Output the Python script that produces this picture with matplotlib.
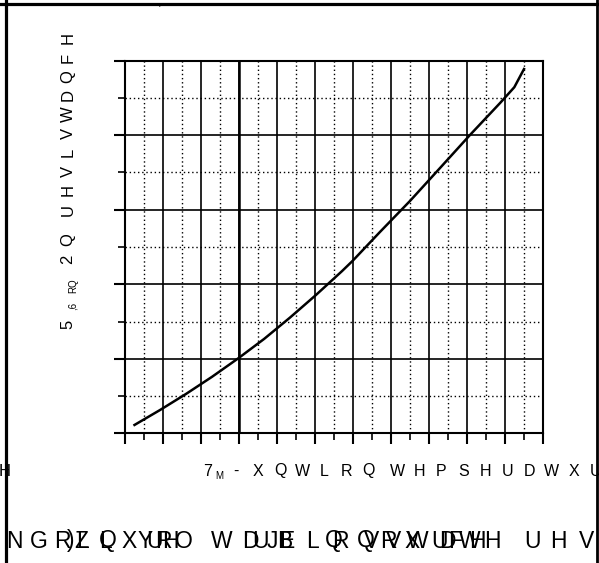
import numpy as np
import matplotlib
matplotlib.use("Agg")
import matplotlib.pyplot as plt
from matplotlib.lines import Line2D
from matplotlib.ticker import MultipleLocator, NullFormatter

# Data (Tj in degC, normalised RDS(on))
tj = [-55, -41.6, -27.9, -14.2, -0.4, 13.2, 26.8, 40.5, 54.2, 59.8,
      74.2, 90.0, 105.8, 121.6, 137.4, 144.9, 150.0]
rds = [0.056, 0.156, 0.264, 0.379, 0.503, 0.633, 0.776, 0.928, 1.088, 1.157,
       1.351, 1.559, 1.780, 2.002, 2.216, 2.322, 2.444]

# garbled text exactly as printed on the sheet
xlabel_main = "7"
xlabel_sub = "M"
xlabel_words = ["-XQWLRQ", "WHPSHUDWXU"]
ylabel_main = "5"
ylabel_sub1 = ",6"
ylabel_sub2 = "RQ"
ylabel_words = ["2Q", "UHVLVWDQFH"]
footer_glyphs = [("N", 14), ("G", 38.5), ("R", 62.5), (")", 71), ("Z", 81), ("L", 83),
                 ("Q", 108), ("L", 106), ("X", 129.5), ("Y", 145), ("U", 155),
                 ("R", 163.5), ("H", 170), ("O", 183.5), ("W", 221.5), ("'", 246),
                 ("D", 250), ("U", 261), ("J", 272), ("B", 285), ("E", 287),
                 ("L", 312), ("Q", 334), ("R", 340), ("Q", 366), ("V", 372),
                 ("R", 388), ("V", 394), ("X", 412), ("W", 418), ("U", 440),
                 ("D", 447), ("F", 455), ("W", 470), ("H", 477), ("H", 492),
                 ("U", 532), ("H", 558), ("V", 587)]

W, H = 599, 563
fig = plt.figure(figsize=(W / 100, H / 100), dpi=100)
plt.rcParams['font.family'] = ['Liberation Sans', 'DejaVu Sans']


def fx(x):
    return x / W


def fy(y):
    return 1 - y / H


ax = fig.add_axes([fx(125), fy(433.3), (543 - 125) / W, (433.3 - 60.7) / H])
ax.plot(tj, rds, color="black", lw=1.8, zorder=5)
ax.set_xlim(-60, 160)
ax.set_ylim(0, 2.5)
ax.xaxis.set_major_locator(MultipleLocator(20))
ax.xaxis.set_minor_locator(MultipleLocator(10))
ax.yaxis.set_major_locator(MultipleLocator(0.5))
ax.yaxis.set_minor_locator(MultipleLocator(0.25))
ax.xaxis.set_major_formatter(NullFormatter())
ax.yaxis.set_major_formatter(NullFormatter())
ax.grid(which="major", color="black", lw=1.2)
ax.grid(which="minor", color="black", lw=1.0, linestyle=(0, (1, 2)))
ax.axvline(0, color="black", lw=1.8)
ax.tick_params(which="major", direction="out", length=8, width=1.5)
ax.tick_params(which="minor", direction="out", length=5, width=1.2)
for s in ax.spines.values():
    s.set_linewidth(1.5)
ax.set_axisbelow(True)

# page frame
fig.add_artist(Line2D([fx(6), fx(6)], [0, 1], color="black", lw=2.3))
fig.add_artist(Line2D([0, fx(597)], [fy(4), fy(4)], color="black", lw=2.3))
fig.add_artist(Line2D([fx(597), fx(597)], [0, 1], color="black", lw=2.0))

fs = 11.5
# x label, letter by letter
fig.text(fx(208), fy(471), xlabel_main, fontsize=fs, ha="center", va="center")
fig.text(fx(219), fy(476), xlabel_sub, fontsize=7, ha="center", va="center")
for word, x0 in zip(xlabel_words, [236, 397.5]):
    for i, c in enumerate(word):
        x = x0 + i * 22
        if x < 605:
            fig.text(fx(x), fy(471), c, fontsize=fs, ha="center", va="center")

# y label, letter by letter (reads bottom to top)
fig.text(fx(68), fy(324), ylabel_main, fontsize=12, ha="center", va="center", rotation=90)
fig.text(fx(73), fy(306), ylabel_sub1, fontsize=7, ha="center", va="center", rotation=90)
fig.text(fx(73), fy(286), ylabel_sub2, fontsize=7, ha="center", va="center", rotation=90)
for word, y0 in zip(ylabel_words, [259, 209.5]):
    for i, c in enumerate(word):
        fig.text(fx(68), fy(y0 - i * 19), c, fontsize=12, ha="center", va="center", rotation=90)

# stray glyphs of the sheet
fig.text(fx(5), fy(471), "H", fontsize=12, ha="center", va="center")
fig.text(fx(160), fy(1), ",", fontsize=10, ha="center", va="center")

for c, x in footer_glyphs:
    fig.text(fx(x), fy(541), c, fontsize=16.5, ha="center", va="center")

fig.savefig("out.png", dpi=100)
